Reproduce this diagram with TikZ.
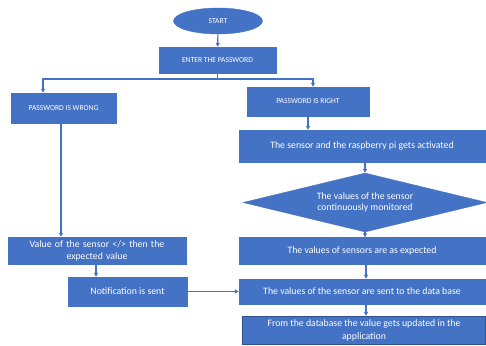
\documentclass[tikz,border=0pt]{standalone}
\usepackage{fontspec}
\setmainfont{Carlito}
\usetikzlibrary{shapes.geometric,arrows.meta}
\definecolor{obl}{HTML}{4472C4}
\definecolor{odk}{HTML}{2F528F}
\tikzset{
  box/.style={draw=obl,fill=obl,text=white,inner sep=1pt,align=center,font=\fontsize{9.8}{12}\selectfont},
  capbox/.style={box,font=\fontsize{7.6}{9}\selectfont},
  arr/.style={draw=obl,line width=1.1pt,-{Triangle[length=4pt,width=4pt]}},
  ln/.style={draw=obl,line width=1.1pt}
}
\begin{document}
\begin{tikzpicture}[x=1pt,y=-1pt]
\useasboundingbox (0,0) rectangle (486,345);
\clip (0,0) rectangle (486,345);
\node[ellipse,capbox,minimum width=89pt,minimum height=26pt] (start) at (218,21) {START};
\node[capbox,minimum width=117pt,minimum height=26pt] (enter) at (217.5,60) {ENTER THE PASSWORD};
\node[capbox,minimum width=105pt,minimum height=30pt] (wrong) at (63.5,108) {PASSWORD IS WRONG};
\node[capbox,minimum width=122pt,minimum height=29pt] (right) at (308,101.5) {PASSWORD IS RIGHT};
\node[box,minimum width=246pt,minimum height=32pt] (act) at (362,146) {The sensor and the raspberry pi gets activated};
\node[box,diamond,aspect=4.1,inner sep=0pt,minimum width=244pt,minimum height=59pt,font=\fontsize{9.8}{11}\selectfont] (mon) at (365,202.5) {The values of the sensor\\continuously monitored};
\node[box,minimum width=246pt,minimum height=27pt] (exp) at (362,251) {The values of sensors are as expected};
\node[box,minimum width=178pt,minimum height=27pt,text width=170pt] (val) at (97,250.5) {Value of the sensor </> then the\\expected value};
\node[box,minimum width=119pt,minimum height=29pt] (notif) at (127.5,291.5) {Notification is sent};
\node[box,minimum width=246pt,minimum height=25pt] (sent) at (362,291.5) {The values of the sensor are sent to the data base};
\node[box,draw=odk,line width=1.5pt,minimum width=243pt,minimum height=28pt,font=\fontsize{9.8}{13}\selectfont] (upd) at (364,330.5) {From the database the value gets updated in the\\application};
\coordinate (j) at (217.5,79);
\coordinate (xl) at (43,0);
\coordinate (xr) at (313,0);
\coordinate (xw) at (61,0);
\coordinate (xv) at (96,0);
\coordinate (xs) at (366,0);
\draw[arr] (start) -- (enter);
\draw[ln] (enter.south) -- (j);
\draw[arr] (j) -| (wrong.north -| xl);
\draw[arr] (j) -| (right.north -| xr);
\draw[arr] (right.south) -- (act.north -| right.south);
\draw[arr] (act.south -| mon.north) -- (mon.north);
\draw[arr] (mon.south) -- (exp.north -| mon.south);
\draw[arr] (exp.south -| xs) -- (sent.north -| xs);
\draw[arr] (sent.south -| xs) -- (upd.north -| xs);
\draw[arr] (wrong.south -| xw) -- (val.north -| xw);
\draw[arr] (val.south -| xv) -- (notif.north -| xv);
\draw[arr] (notif.east) -- (sent.west);
\end{tikzpicture}
\end{document}
